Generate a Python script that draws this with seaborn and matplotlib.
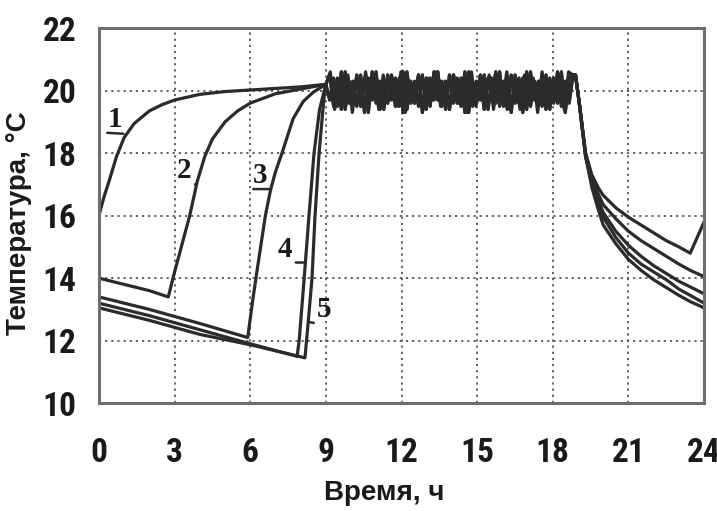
import numpy as np
import pandas as pd
import matplotlib
matplotlib.use("Agg")
import matplotlib.pyplot as plt
from matplotlib import font_manager as fm
import seaborn as sns

# ---- data ----
# night / morning parts (time, h ; temperature, °C)
t1 = [0, 0.2, 0.4, 0.7, 1.0, 1.4, 2.0, 2.5, 3.0, 4.0, 5.0, 6.0, 7.0, 8.0, 9.0]
T1 = [16.0, 16.6, 17.1, 17.9, 18.5, 18.95, 19.35, 19.55, 19.7, 19.88, 19.97, 20.02, 20.07, 20.12, 20.2]

t2 = [0, 1.0, 2.0, 2.75, 3.0, 3.3, 3.6, 3.9, 4.2, 4.5, 5.0, 5.5, 6.0, 7.0, 8.0, 9.0]
T2 = [14.0, 13.8, 13.6, 13.4, 14.2, 15.1, 16.0, 17.1, 17.9, 18.45, 19.0, 19.35, 19.6, 19.9, 20.05, 20.2]

t3 = [0, 2.0, 4.0, 5.9, 6.1, 6.3, 6.6, 6.8, 7.0, 7.26, 7.7, 8.1, 8.5, 9.0]
T3 = [13.4, 13.0, 12.55, 12.1, 13.3, 14.4, 16.0, 16.8, 17.4, 18.0, 19.1, 19.65, 19.95, 20.2]

t4 = [0, 2.0, 4.0, 6.0, 7.86, 7.94, 8.14, 8.33, 8.53, 8.75, 9.0]
T4 = [13.2, 12.8, 12.35, 11.9, 11.5, 12.0, 14.0, 16.0, 18.0, 19.4, 20.2]

t5 = [0, 2.0, 4.0, 6.0, 8.17, 8.3, 8.45, 8.57, 8.73, 8.95, 9.0]
T5 = [13.05, 12.65, 12.2, 11.87, 11.45, 12.6, 14.0, 16.0, 18.0, 20.0, 20.2]

# daytime regulation (9 h ... 18.8 h), zig-zag readings
oscA = [20.2, 20.5, 19.5, 20.4, 19.4, 20.6, 19.6, 20.3, 19.5, 20.5, 19.3, 20.4, 19.7, 20.6, 19.4, 20.3,
        19.6, 20.5, 19.5, 20.4, 19.3, 20.6, 19.6, 20.3, 19.5, 20.5, 19.4, 20.4, 19.7, 20.6, 19.5, 20.3,
        19.4, 20.5, 19.6, 20.4, 19.3, 20.6, 19.5, 20.3, 19.7, 20.5, 19.4, 20.4, 19.6, 20.6, 19.5, 20.3,
        19.3, 20.5, 19.6, 20.4, 19.4, 20.6, 19.7, 20.3, 19.5, 20.5, 19.4, 20.4, 19.6, 20.6, 19.3, 20.4, 20.5]
oscB = [20.2, 19.7, 20.4, 19.5, 20.6, 19.4, 20.3, 19.6, 20.5, 19.5, 20.4, 19.3, 20.6, 19.6, 20.3, 19.4,
        20.5, 19.7, 20.4, 19.5, 20.6, 19.4, 20.3, 19.6, 20.5, 19.3, 20.4, 19.5, 20.6, 19.7, 20.3, 19.4,
        20.5, 19.6, 20.4, 19.5, 20.6, 19.3, 20.3, 19.6, 20.5, 19.4, 20.4, 19.7, 20.6, 19.5, 20.3, 19.4,
        20.5, 19.6, 20.4, 19.3, 20.6, 19.5, 20.3, 19.7, 20.5, 19.4, 20.4, 19.6, 20.6, 19.5, 20.3, 19.6, 20.5]
oscC = [20.2, 20.6, 19.4, 20.3, 19.6, 20.5, 19.3, 20.4, 19.5, 20.6, 19.7, 20.3, 19.4, 20.5, 19.6, 20.4,
        19.5, 20.6, 19.3, 20.3, 19.6, 20.5, 19.4, 20.4, 19.7, 20.6, 19.5, 20.3, 19.4, 20.5, 19.6, 20.4,
        19.3, 20.6, 19.5, 20.3, 19.7, 20.5, 19.4, 20.4, 19.6, 20.6, 19.5, 20.3, 19.4, 20.5, 19.6, 20.4,
        19.3, 20.6, 19.5, 20.3, 19.7, 20.5, 19.4, 20.6, 20.5]
day_start, day_end = 9.0, 18.8

# evening cool-down
te = [18.9, 19.05, 19.3, 19.55, 19.8, 20.0, 20.5, 21.0, 21.5, 22.0, 22.5, 23.0, 23.45, 24.0]
E1 = [20.5, 19.6, 18.0, 17.3, 16.9, 16.65, 16.25, 15.95, 15.7, 15.45, 15.2, 15.0, 14.8, 15.8]
E2 = [20.5, 19.6, 18.0, 17.2, 16.7, 16.35, 15.9, 15.5, 15.2, 14.95, 14.7, 14.45, 14.25, 14.05]
E3 = [20.5, 19.6, 17.9, 17.1, 16.5, 16.1, 15.5, 15.05, 14.7, 14.4, 14.15, 13.9, 13.72, 13.5]
E4 = [20.5, 19.6, 17.9, 17.0, 16.4, 15.95, 15.3, 14.8, 14.45, 14.2, 13.95, 13.65, 13.45, 13.2]
E5 = [20.5, 19.6, 17.9, 16.9, 16.2, 15.7, 15.1, 14.6, 14.25, 13.95, 13.7, 13.45, 13.25, 13.05]

curve_names = ["1", "2", "3", "4", "5"]
x_ticks = [0, 3, 6, 9, 12, 15, 18, 21, 24]
y_ticks = [10, 12, 14, 16, 18, 20, 22]

# ---- assemble long-form table ----
nights = [(t1, T1), (t2, T2), (t3, T3), (t4, T4), (t5, T5)]
days = [oscA, oscB, oscC, oscA, oscB]
evenings = [E1, E2, E3, E4, E5]
rows = []
for name, (tn, Tn), osc, Ev in zip(curve_names, nights, days, evenings):
    td = np.linspace(day_start, day_end, len(osc))
    tt = list(tn) + list(td[1:]) + list(te)
    TT = list(Tn) + list(osc[1:]) + list(Ev)
    for a, b in zip(tt, TT):
        rows.append({"time": a, "temp": b, "curve": name})
df = pd.DataFrame(rows)

# ---- fonts ----
sns.set_theme(style="white")
plt.rcParams["font.family"] = ["Liberation Sans", "DejaVu Sans"]

def find_narrow_bold():
    prefs = ["liberationsansnarrow-bold", "robotocondensed-bold"]
    files = [f.fname for f in fm.fontManager.ttflist]
    for p in prefs:
        for fn in files:
            base = fn.replace("\\", "/").split("/")[-1].lower().replace(" ", "").replace("_", "-")
            if base.startswith(p) and "italic" not in base:
                return fn
    return None

narrow_file = find_narrow_bold()
if narrow_file:
    tick_fp = fm.FontProperties(fname=narrow_file, size=24)
else:
    tick_fp = fm.FontProperties(family=["Liberation Sans", "DejaVu Sans"], weight="bold", size=22)

# ---- plot ----
fig = plt.figure(figsize=(7.17, 5.11), dpi=100)
ax = fig.add_axes([0.138, 0.211, 0.844, 0.734])

sns.lineplot(data=df, x="time", y="temp", units="curve", estimator=None, sort=False,
             color="#2b2b2b", lw=2.3, ax=ax, legend=False)

ax.set_xlim(0, 24)
ax.set_ylim(10, 22)
ax.set_xticks(x_ticks)
ax.set_yticks(y_ticks)
ax.grid(True, which="major", color="#555555", linestyle=(0, (1.2, 2.2)), linewidth=1.3)
for s in ax.spines.values():
    s.set_color("#6e6e6e")
    s.set_linewidth(2.2)
ax.tick_params(axis="both", direction="inout", length=14, width=1.5, color="#555555",
               labelcolor="#1a1a1a")
ax.tick_params(axis="x", pad=17)
ax.tick_params(axis="y", pad=9)
for lab in ax.get_xticklabels() + ax.get_yticklabels():
    lab.set_fontproperties(tick_fp)

ax.set_xlabel("Время, ч", fontsize=20, fontweight="bold", color="#1a1a1a")
ax.set_ylabel("Температура, °С", fontsize=20, fontweight="bold", color="#1a1a1a")
ax.xaxis.set_label_coords(0.472, -0.205)
ax.yaxis.set_label_coords(-0.11, 0.48)

# curve number labels with leader lines
label_pos = {"1": ((0.33, 18.65), (0.97, 18.62)),
             "2": ((3.1, 17.0), (3.87, 17.0)),
             "3": ((6.12, 16.85), (6.82, 16.85)),
             "4": ((7.1, 14.5), (8.19, 14.5)),
             "5": ((8.65, 12.55), (8.3, 12.6))}
for name in curve_names:
    (tx, ty), (px, py) = label_pos[name]
    ax.annotate(name, xy=(px, py), xytext=(tx, ty), ha="left", va="bottom",
                fontsize=21, fontweight="bold", family=["Liberation Serif", "DejaVu Serif"],
                color="#1a1a1a",
                arrowprops=dict(arrowstyle="-", lw=1.8, color="#2b2b2b",
                                relpos=(0, 0), shrinkA=0, shrinkB=0))

fig.savefig("out.png", dpi=100)
